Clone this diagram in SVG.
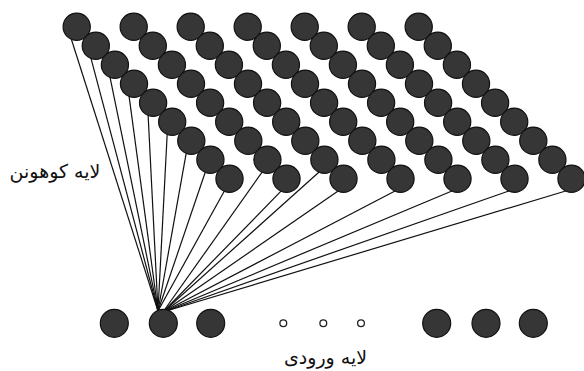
<svg xmlns="http://www.w3.org/2000/svg" width="584" height="371" viewBox="0 0 584 371">
<style>
.n{fill:#363636;stroke:#111;stroke-width:1.2}
.s{fill:#fff;stroke:#222;stroke-width:1.3}
.c line{stroke:#111;stroke-width:1.2}
.t{font-family:"DejaVu Sans",sans-serif;font-size:19px;fill:#111;text-anchor:middle}
</style>
<rect width="584" height="371" fill="#fff"/>
<g class="c" id="connectors">
<line x1="158" y1="311" x2="71.2" y2="38.7"/>
<line x1="158" y1="311" x2="90.8" y2="57.7"/>
<line x1="158" y1="311" x2="109.9" y2="76.7"/>
<line x1="158" y1="311" x2="129" y2="95.7"/>
<line x1="158" y1="311" x2="148.1" y2="114.7"/>
<line x1="158" y1="311" x2="167.2" y2="133.7"/>
<line x1="158" y1="311" x2="186.3" y2="152.7"/>
<line x1="158" y1="311" x2="205.4" y2="171.7"/>
<line x1="158" y1="311" x2="224.5" y2="190.7"/>
<line x1="163" y1="312" x2="262.4" y2="171.7"/>
<line x1="163" y1="312" x2="281.5" y2="190.7"/>
<line x1="163" y1="312" x2="319.4" y2="171.7"/>
<line x1="163" y1="312" x2="338.5" y2="190.7"/>
<line x1="163" y1="312" x2="395.5" y2="190.7"/>
<line x1="163" y1="312" x2="452.5" y2="190.7"/>
<line x1="163" y1="312" x2="509.5" y2="190.7"/>
<line x1="163" y1="312" x2="566.5" y2="190.7"/>
</g>
<g id="kohonen">
<g id="d0" transform="translate(76.7,26.7)">
<g id="k0-0"><circle class="n" cx="0" cy="0" r="13.6"/></g>
<g id="k0-1"><circle class="n" cx="19.1" cy="19" r="13.6"/></g>
<g id="k0-2"><circle class="n" cx="38.2" cy="38" r="13.6"/></g>
<g id="k0-3"><circle class="n" cx="57.3" cy="57" r="13.6"/></g>
<g id="k0-4"><circle class="n" cx="76.4" cy="76" r="13.6"/></g>
<g id="k0-5"><circle class="n" cx="95.5" cy="95" r="13.6"/></g>
<g id="k0-6"><circle class="n" cx="114.6" cy="114" r="13.6"/></g>
<g id="k0-7"><circle class="n" cx="133.7" cy="133" r="13.6"/></g>
<g id="k0-8"><circle class="n" cx="152.8" cy="152" r="13.6"/></g>
</g>
<g id="d1" transform="translate(133.7,26.7)">
<g id="k1-0"><circle class="n" cx="0" cy="0" r="13.6"/></g>
<g id="k1-1"><circle class="n" cx="19.1" cy="19" r="13.6"/></g>
<g id="k1-2"><circle class="n" cx="38.2" cy="38" r="13.6"/></g>
<g id="k1-3"><circle class="n" cx="57.3" cy="57" r="13.6"/></g>
<g id="k1-4"><circle class="n" cx="76.4" cy="76" r="13.6"/></g>
<g id="k1-5"><circle class="n" cx="95.5" cy="95" r="13.6"/></g>
<g id="k1-6"><circle class="n" cx="114.6" cy="114" r="13.6"/></g>
<g id="k1-7"><circle class="n" cx="133.7" cy="133" r="13.6"/></g>
<g id="k1-8"><circle class="n" cx="152.8" cy="152" r="13.6"/></g>
</g>
<g id="d2" transform="translate(190.7,26.7)">
<g id="k2-0"><circle class="n" cx="0" cy="0" r="13.6"/></g>
<g id="k2-1"><circle class="n" cx="19.1" cy="19" r="13.6"/></g>
<g id="k2-2"><circle class="n" cx="38.2" cy="38" r="13.6"/></g>
<g id="k2-3"><circle class="n" cx="57.3" cy="57" r="13.6"/></g>
<g id="k2-4"><circle class="n" cx="76.4" cy="76" r="13.6"/></g>
<g id="k2-5"><circle class="n" cx="95.5" cy="95" r="13.6"/></g>
<g id="k2-6"><circle class="n" cx="114.6" cy="114" r="13.6"/></g>
<g id="k2-7"><circle class="n" cx="133.7" cy="133" r="13.6"/></g>
<g id="k2-8"><circle class="n" cx="152.8" cy="152" r="13.6"/></g>
</g>
<g id="d3" transform="translate(247.7,26.7)">
<g id="k3-0"><circle class="n" cx="0" cy="0" r="13.6"/></g>
<g id="k3-1"><circle class="n" cx="19.1" cy="19" r="13.6"/></g>
<g id="k3-2"><circle class="n" cx="38.2" cy="38" r="13.6"/></g>
<g id="k3-3"><circle class="n" cx="57.3" cy="57" r="13.6"/></g>
<g id="k3-4"><circle class="n" cx="76.4" cy="76" r="13.6"/></g>
<g id="k3-5"><circle class="n" cx="95.5" cy="95" r="13.6"/></g>
<g id="k3-6"><circle class="n" cx="114.6" cy="114" r="13.6"/></g>
<g id="k3-7"><circle class="n" cx="133.7" cy="133" r="13.6"/></g>
<g id="k3-8"><circle class="n" cx="152.8" cy="152" r="13.6"/></g>
</g>
<g id="d4" transform="translate(304.7,26.7)">
<g id="k4-0"><circle class="n" cx="0" cy="0" r="13.6"/></g>
<g id="k4-1"><circle class="n" cx="19.1" cy="19" r="13.6"/></g>
<g id="k4-2"><circle class="n" cx="38.2" cy="38" r="13.6"/></g>
<g id="k4-3"><circle class="n" cx="57.3" cy="57" r="13.6"/></g>
<g id="k4-4"><circle class="n" cx="76.4" cy="76" r="13.6"/></g>
<g id="k4-5"><circle class="n" cx="95.5" cy="95" r="13.6"/></g>
<g id="k4-6"><circle class="n" cx="114.6" cy="114" r="13.6"/></g>
<g id="k4-7"><circle class="n" cx="133.7" cy="133" r="13.6"/></g>
<g id="k4-8"><circle class="n" cx="152.8" cy="152" r="13.6"/></g>
</g>
<g id="d5" transform="translate(361.7,26.7)">
<g id="k5-0"><circle class="n" cx="0" cy="0" r="13.6"/></g>
<g id="k5-1"><circle class="n" cx="19.1" cy="19" r="13.6"/></g>
<g id="k5-2"><circle class="n" cx="38.2" cy="38" r="13.6"/></g>
<g id="k5-3"><circle class="n" cx="57.3" cy="57" r="13.6"/></g>
<g id="k5-4"><circle class="n" cx="76.4" cy="76" r="13.6"/></g>
<g id="k5-5"><circle class="n" cx="95.5" cy="95" r="13.6"/></g>
<g id="k5-6"><circle class="n" cx="114.6" cy="114" r="13.6"/></g>
<g id="k5-7"><circle class="n" cx="133.7" cy="133" r="13.6"/></g>
<g id="k5-8"><circle class="n" cx="152.8" cy="152" r="13.6"/></g>
</g>
<g id="d6" transform="translate(418.7,26.7)">
<g id="k6-0"><circle class="n" cx="0" cy="0" r="13.6"/></g>
<g id="k6-1"><circle class="n" cx="19.1" cy="19" r="13.6"/></g>
<g id="k6-2"><circle class="n" cx="38.2" cy="38" r="13.6"/></g>
<g id="k6-3"><circle class="n" cx="57.3" cy="57" r="13.6"/></g>
<g id="k6-4"><circle class="n" cx="76.4" cy="76" r="13.6"/></g>
<g id="k6-5"><circle class="n" cx="95.5" cy="95" r="13.6"/></g>
<g id="k6-6"><circle class="n" cx="114.6" cy="114" r="13.6"/></g>
<g id="k6-7"><circle class="n" cx="133.7" cy="133" r="13.6"/></g>
<g id="k6-8"><circle class="n" cx="152.8" cy="152" r="13.6"/></g>
</g>
</g>
<g id="input">
<g id="in-1"><circle class="n" cx="114.3" cy="323.3" r="14"/></g>
<g id="in-2"><circle class="n" cx="163.3" cy="323.3" r="14"/></g>
<g id="in-3"><circle class="n" cx="210.7" cy="323.3" r="14"/></g>
<g id="dot-1"><circle class="s" cx="283.3" cy="323.3" r="3.4"/></g>
<g id="dot-2"><circle class="s" cx="323.3" cy="323.3" r="3.4"/></g>
<g id="dot-3"><circle class="s" cx="361" cy="323.3" r="3.4"/></g>
<g id="in-4"><circle class="n" cx="436.7" cy="323.3" r="14"/></g>
<g id="in-5"><circle class="n" cx="486" cy="323.3" r="14"/></g>
<g id="in-6"><circle class="n" cx="533.3" cy="323.3" r="14"/></g>
</g>
<g id="labels">
<text class="t" x="55" y="178" direction="rtl">لایه کوهونن</text>
<text class="t" x="325.5" y="364" direction="rtl">لایه ورودی</text>
</g>
</svg>
